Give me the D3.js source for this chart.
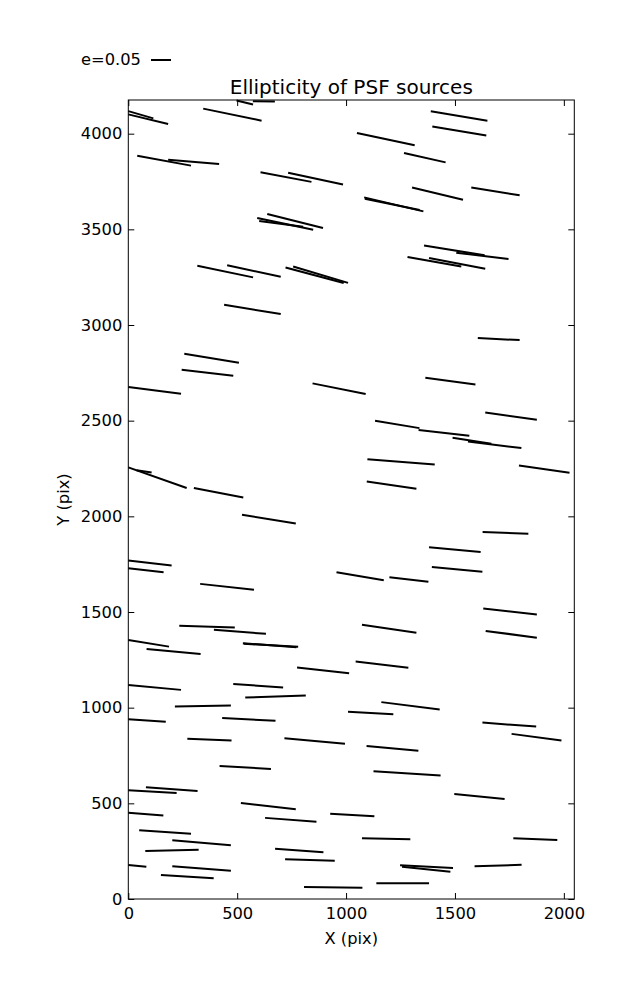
<!DOCTYPE html>
<html><head><meta charset="utf-8">
<script src="https://cdn.jsdelivr.net/npm/d3@7"></script>
<style>body{margin:0;background:#fff}svg{display:block}text{font-family:"DejaVu Sans",sans-serif;fill:#000}</style>
</head><body><svg id="c" width="637" height="1000"></svg>
<script>
// segment endpoints in detector pixels (x0,y0) -> (x1,y1)
const x0 = [0,0,344,497,572,41,183,607,734,638,592,601,317,454,722,757,
  1389,1396,1050,1266,1303,1575,1083,1086,1358,1506,1282,1381,
  440,257,245,0,846,0,38,301,
  1605,1364,1639,1133,1333,1489,1560,1098,1794,1095,
  522,0,0,956,330,234,393,526,530,0,84,775,0,482,537,
  1627,1381,1394,1199,1630,1641,1073,1044,
  214,0,431,1009,271,717,419,0,81,517,0,628,927,50,202,78,674,720,0,202,150,807,
  1162,1626,1760,1094,1126,1497,1073,1768,1248,1257,1590,1139];
const y0 = [4118,4101,4131,4173,4170,3885,3864,3798,3796,3580,3559,3543,3310,3312,3301,3306,
  4117,4038,4004,3899,3719,3719,3667,3660,3416,3378,3355,3350,
  3106,2850,2766,2676,2695,2256,2241,2148,
  2932,2724,2543,2500,2451,2411,2391,2299,2266,2182,
  2008,1769,1729,1708,1647,1428,1407,1337,1334,1354,1307,1210,1119,1124,1053,
  1918,1839,1735,1682,1518,1401,1433,1241,
  1006,940,946,979,837,840,695,568,584,502,451,424,446,359,307,251,263,208,178,171,126,63,
  1029,922,863,800,668,549,317,317,176,169,171,82];
const x1 = [115,183,612,573,673,288,417,841,986,894,849,803,573,700,989,1009,
  1649,1644,1315,1457,1537,1797,1355,1338,1636,1746,1529,1639,
  700,508,482,242,1090,268,107,528,
  1797,1594,1876,1337,1566,1667,1805,1407,2026,1323,
  769,199,162,1173,577,489,632,772,780,187,332,1014,242,711,815,
  1837,1618,1626,1378,1876,1876,1323,1286,
  471,172,676,1217,474,995,655,222,318,769,161,864,1130,288,471,323,896,948,83,471,392,1075,
  1430,1873,1989,1332,1434,1728,1295,1970,1491,1479,1806,1381];
const y1 = [4080,4051,4068,4152,4168,3833,3842,3748,3734,3507,3498,3513,3249,3252,3220,3220,
  4068,3990,3939,3850,3655,3678,3594,3601,3364,3345,3306,3294,
  3057,2803,2735,2641,2639,2148,2229,2098,
  2921,2689,2505,2461,2421,2379,2357,2271,2228,2144,
  1962,1743,1708,1666,1616,1419,1386,1316,1318,1319,1280,1180,1093,1105,1063,
  1909,1813,1711,1658,1487,1366,1392,1209,
  1011,927,931,966,828,812,680,554,565,469,436,404,432,341,281,258,244,200,169,148,108,59,
  990,901,828,775,645,523,312,309,162,143,179,82];
const xTicks = [0,500,1000,1500,2000];
const yTicks = [0,500,1000,1500,2000,2500,3000,3500,4000];
const legendE = 0.05, legendLenPx = 20;

const svg = d3.select("#c");
const L=128.3, R=574.3, T=100, B=899;
const x = d3.scaleLinear().domain([0,2048]).range([L,R]);
const y = d3.scaleLinear().domain([0,4176]).range([B,T]);

const g = svg.append("g");
g.selectAll("line.seg").data(d3.range(x0.length)).join("line").attr("class","seg")
  .attr("x1",i=>x(x0[i])).attr("y1",i=>y(y0[i]))
  .attr("x2",i=>x(x1[i])).attr("y2",i=>y(y1[i]))
  .attr("stroke","#000").attr("stroke-width",2);

svg.append("rect").attr("x",L).attr("y",T).attr("width",R-L).attr("height",B-T)
  .attr("fill","none").attr("stroke","#000").attr("stroke-width",1);

const fs = 16.3, fmt = d3.format("d");
const ax = d3.axisBottom(x).tickValues(xTicks).tickFormat(fmt).tickSizeInner(-6).tickSizeOuter(0).tickPadding(8);
svg.append("g").attr("transform",`translate(0,${B})`).call(ax);
const axT = d3.axisTop(x).tickValues(xTicks).tickSizeInner(-6).tickSizeOuter(0).tickFormat("");
svg.append("g").attr("transform",`translate(0,${T})`).call(axT);
const ay = d3.axisLeft(y).tickValues(yTicks).tickFormat(fmt).tickSizeInner(-6).tickSizeOuter(0).tickPadding(6);
svg.append("g").attr("transform",`translate(${L},0)`).call(ay);
const ayR = d3.axisRight(y).tickValues(yTicks).tickSizeInner(-6).tickSizeOuter(0).tickFormat("");
svg.append("g").attr("transform",`translate(${R},0)`).call(ayR);
svg.selectAll(".domain").remove();
svg.selectAll(".tick line").attr("stroke","#000");
svg.selectAll(".tick text").attr("font-size",fs).attr("font-family","DejaVu Sans").attr("fill","#000");

svg.append("text").attr("x",(L+R)/2).attr("y",94).attr("text-anchor","middle")
  .attr("font-size",20).text("Ellipticity of PSF sources");
svg.append("text").attr("x",(L+R)/2).attr("y",944).attr("text-anchor","middle")
  .attr("font-size",fs).text("X (pix)");
svg.append("text").attr("transform",`translate(69,${(T+B)/2}) rotate(-90)`).attr("text-anchor","middle")
  .attr("font-size",fs).text("Y (pix)");

svg.append("text").attr("x",81).attr("y",65).attr("font-size",fs).text("e="+legendE);
svg.append("line").attr("x1",151).attr("x2",151+legendLenPx).attr("y1",60).attr("y2",60)
  .attr("stroke","#000").attr("stroke-width",2);
</script></body></html>
